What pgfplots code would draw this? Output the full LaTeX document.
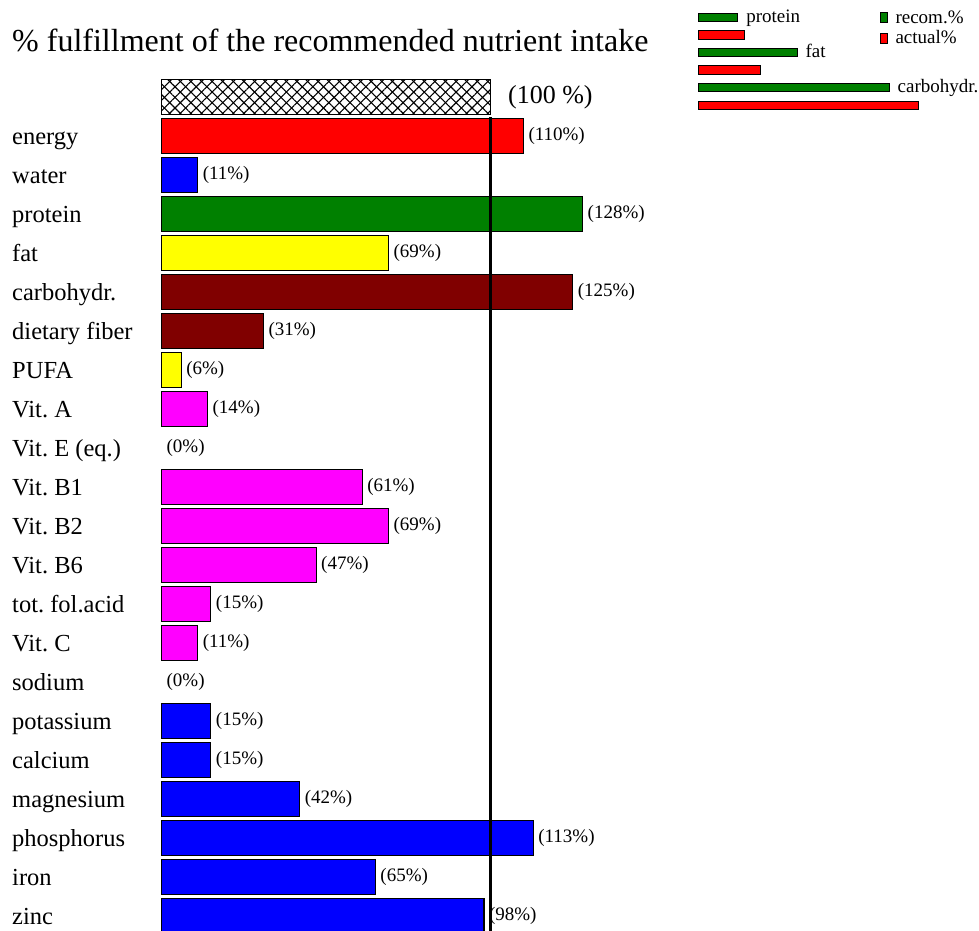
\documentclass[border=0pt]{standalone}
\usepackage{fontspec}
\setmainfont{Liberation Serif}
\usepackage{pgfplots}
\pgfplotsset{compat=1.18}
\usetikzlibrary{patterns.meta}
\definecolor{cgreen}{RGB}{0,128,0}
\definecolor{cmaroon}{RGB}{128,0,0}
\definecolor{cyellow}{RGB}{255,255,0}
\definecolor{cmag}{RGB}{255,0,255}
\definecolor{cred}{RGB}{255,0,0}
\definecolor{cblue}{RGB}{0,0,255}
\pgfplotsset{
  mybar/.style={xbar, bar width=35pt, bar shift=0pt, draw=black, line width=1.2pt, fill=#1,
    point meta=x,
    nodes near coords={(\pgfmathprintnumber{\pgfplotspointmeta}\%)},
    every node near coord/.append style={font=\fontsize{19}{19}\selectfont, anchor=west, inner sep=0pt,
      xshift=4.5pt, text height=12pt, text depth=4.6pt, text=black, draw=none, fill=none}},
  minibar/.style={xbar, bar width=8.5pt, bar shift=0pt, draw=black, line width=1pt, fill=#1,
    legend image code/.code={\draw[fill=#1, draw=black, line width=1pt] (0pt,-5pt) rectangle (6.5pt,5pt);}},
}
\begin{document}
\frenchspacing
\begin{tikzpicture}
\useasboundingbox (0pt,0pt) rectangle (979pt,-930pt);
\node[anchor=base west, inner sep=0pt, font=\fontsize{32}{32}\selectfont] at (12pt,-51pt) {\% fulfillment of the recommended nutrient intake};
\begin{axis}[
  at={(161.5pt,-77.8pt)}, anchor=north west,
  scale only axis, width=658pt, height=858pt,
  xmin=0, xmax=200, ymin=-1.5, ymax=20.5, y dir=reverse,
  axis line style={draw=none}, tick style={draw=none},
  xtick=\empty, ytick={0,...,20},
  yticklabels={energy,water,protein,fat,carbohydr.,dietary fiber,PUFA,Vit. A,Vit. E (eq.),Vit. B1,Vit. B2,Vit. B6,tot. fol.acid,Vit. C,sodium,potassium,calcium,magnesium,phosphorus,iron,zinc},
  yticklabel style={anchor=west, inner sep=0pt, xshift=-149.5pt, font=\fontsize{24.5}{24.5}\selectfont, text height=20pt, text depth=4.6pt},
  clip=false,
  /pgf/number format/assume math mode=true,
]
% reference 100 % bar
\addplot[xbar, bar width=35pt, bar shift=0pt, draw=black, line width=1.2pt,
  pattern={Lines[angle=45,distance=7.5pt,line width=1.1pt]},
  postaction={pattern={Lines[angle=-45,distance=7.5pt,line width=1.1pt]}},
  nodes near coords={(100 \%)},
  every node near coord/.append style={font=\fontsize{26}{26}\selectfont, anchor=west, inner sep=0pt,
    xshift=17pt, text height=18pt, text depth=5pt, draw=none, fill=none, text=black}]
  coordinates {(100,-1)};
\addplot[mybar=cred] coordinates {(110,0)};
\addplot[mybar=cblue] coordinates {(11,1) (15,15) (15,16) (42,17) (113,18) (65,19) (98,20)};
\addplot[mybar=cgreen] coordinates {(128,2)};
\addplot[mybar=cyellow] coordinates {(69,3) (6,6)};
\addplot[mybar=cmaroon] coordinates {(125,4) (31,5)};
\addplot[mybar=cmag] coordinates {(14,7) (61,9) (69,10) (47,11) (15,12) (11,13)};
\addplot[mybar=white, draw=none, fill=none] coordinates {(0,8) (0,14)};
\addplot[black, line width=2.5pt] coordinates {(100,-0.5) (100,20.6)};
\end{axis}
\begin{axis}[
  at={(698.3pt,-8.5pt)}, anchor=north west,
  scale only axis, width=263.2pt, height=105.6pt,
  xmin=0, xmax=80, ymin=-0.5, ymax=5.5, y dir=reverse,
  hide axis, clip=false,
  legend style={at={(axis description cs:0.6904,0.99)}, anchor=north west, draw=none, fill=none,
    inner sep=0pt, outer sep=0pt, font=\fontsize{19}{19}\selectfont, row sep=4pt, column sep=7pt,
    nodes={inner sep=1pt}},
  legend cell align=left,
]
\addplot[minibar=cgreen, point meta=explicit symbolic, nodes near coords,
  every node near coord/.append style={font=\fontsize{19}{19}\selectfont, anchor=west, inner sep=0pt,
    xshift=8pt, text height=14pt, text depth=4pt, draw=none, fill=none, text=black}]
  coordinates {(12,0) [protein] (30,2) [fat] (58,4) [carbohydr.]};
\addlegendentry{recom.\%}
\addplot[minibar=cred] coordinates {(14,1) (19,3) (67,5)};
\addlegendentry{actual\%}
\end{axis}
\end{tikzpicture}
\end{document}
